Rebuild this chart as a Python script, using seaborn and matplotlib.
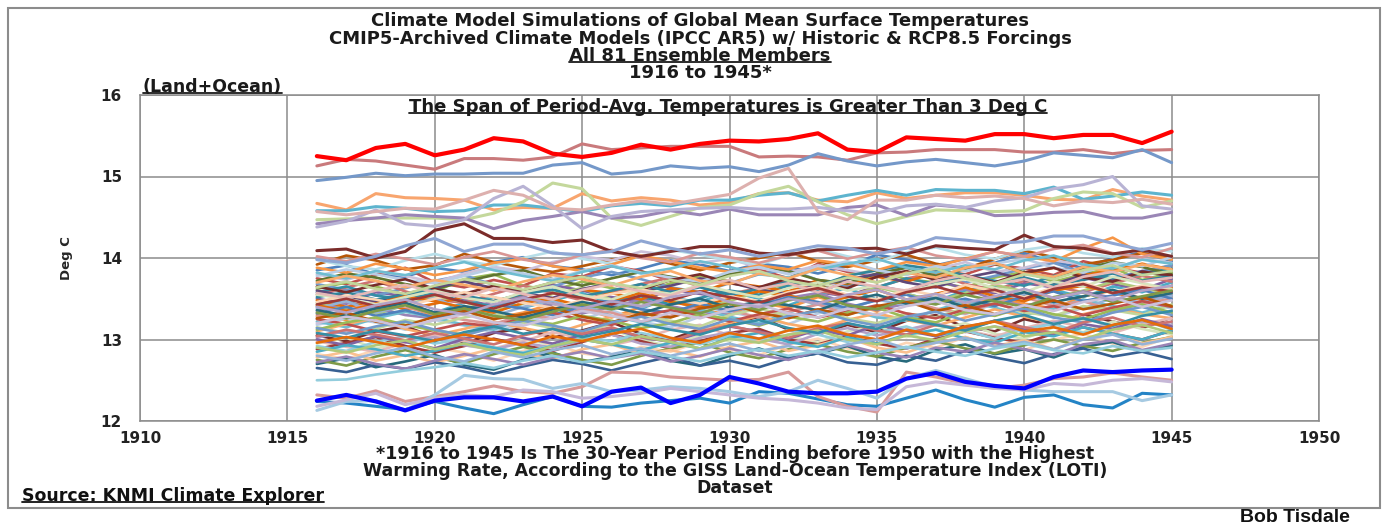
import numpy as np
import pandas as pd
import matplotlib
matplotlib.use('Agg')
import matplotlib.pyplot as plt
import seaborn as sns
from matplotlib.lines import Line2D
from matplotlib.patches import Rectangle

years = list(range(1916, 1946))

# highlighted / stand-alone members
red_top = [15.25, 15.20, 15.35, 15.40, 15.26, 15.33, 15.47, 15.43, 15.28, 15.24,
           15.29, 15.39, 15.33, 15.40, 15.44, 15.43, 15.46, 15.53, 15.33, 15.30,
           15.48, 15.46, 15.44, 15.52, 15.52, 15.47, 15.51, 15.51, 15.41, 15.55]
pink_top = [15.13, 15.21, 15.19, 15.14, 15.09, 15.22, 15.22, 15.20, 15.24, 15.40,
            15.33, 15.35, 15.37, 15.37, 15.37, 15.24, 15.25, 15.24, 15.20, 15.29,
            15.30, 15.33, 15.33, 15.33, 15.30, 15.30, 15.33, 15.28, 15.32, 15.33]
blue_top = [14.95, 14.99, 15.04, 15.01, 15.03, 15.03, 15.04, 15.04, 15.14, 15.17,
            15.03, 15.06, 15.13, 15.10, 15.12, 15.06, 15.14, 15.28, 15.19, 15.13,
            15.18, 15.21, 15.17, 15.13, 15.19, 15.29, 15.26, 15.23, 15.33, 15.17]
orange_hi = [14.67, 14.59, 14.79, 14.74, 14.73, 14.71, 14.59, 14.62, 14.61, 14.79,
             14.70, 14.74, 14.71, 14.65, 14.68, 14.79, 14.80, 14.71, 14.69, 14.80,
             14.73, 14.77, 14.80, 14.80, 14.77, 14.72, 14.71, 14.84, 14.76, 14.71]
aqua_hi = [14.58, 14.58, 14.63, 14.61, 14.57, 14.58, 14.65, 14.65, 14.61, 14.57,
           14.64, 14.67, 14.64, 14.71, 14.71, 14.77, 14.80, 14.70, 14.77, 14.83,
           14.77, 14.84, 14.83, 14.83, 14.79, 14.87, 14.72, 14.76, 14.81, 14.77]
green_hi = [14.47, 14.48, 14.49, 14.49, 14.49, 14.47, 14.55, 14.69, 14.92, 14.85,
            14.49, 14.40, 14.51, 14.62, 14.65, 14.79, 14.88, 14.69, 14.53, 14.42,
            14.51, 14.59, 14.58, 14.57, 14.58, 14.73, 14.81, 14.79, 14.62, 14.70]
purple_hi = [14.42, 14.46, 14.49, 14.53, 14.51, 14.49, 14.36, 14.46, 14.51, 14.57,
             14.49, 14.51, 14.58, 14.53, 14.60, 14.53, 14.53, 14.53, 14.62, 14.65,
             14.52, 14.65, 14.62, 14.52, 14.53, 14.56, 14.57, 14.49, 14.49, 14.56]
lavender_hi = [14.38, 14.45, 14.59, 14.42, 14.39, 14.47, 14.73, 14.88, 14.64, 14.36,
               14.51, 14.57, 14.59, 14.61, 14.62, 14.60, 14.60, 14.62, 14.58, 14.55,
               14.64, 14.66, 14.62, 14.70, 14.74, 14.85, 14.90, 15.00, 14.64, 14.60]
rose_hi = [14.57, 14.53, 14.57, 14.61, 14.60, 14.71, 14.83, 14.77, 14.61, 14.59,
           14.65, 14.70, 14.66, 14.72, 14.78, 14.98, 15.10, 14.57, 14.47, 14.71,
           14.71, 14.77, 14.74, 14.76, 14.73, 14.64, 14.70, 14.68, 14.72, 14.66]
brown_hi = [14.09, 14.11, 14.00, 14.08, 14.34, 14.42, 14.24, 14.24, 14.19, 14.22,
            14.08, 14.02, 14.08, 14.14, 14.14, 14.06, 14.04, 14.10, 14.11, 14.12,
            14.05, 14.15, 14.12, 14.10, 14.28, 14.14, 14.12, 14.05, 14.10, 14.02]
periwinkle_hi = [13.98, 13.94, 14.02, 14.15, 14.24, 14.08, 14.17, 14.17, 14.06, 14.04,
                 14.08, 14.21, 14.12, 14.05, 14.10, 14.02, 14.08, 14.15, 14.12, 14.05,
                 14.12, 14.25, 14.22, 14.18, 14.20, 14.27, 14.27, 14.18, 14.10, 14.18]
blue_low = [12.25, 12.32, 12.24, 12.13, 12.25, 12.29, 12.29, 12.24, 12.30, 12.18,
            12.36, 12.41, 12.22, 12.32, 12.54, 12.46, 12.36, 12.34, 12.34, 12.36,
            12.52, 12.59, 12.48, 12.43, 12.40, 12.54, 12.62, 12.60, 12.62, 12.63]
midblue_low = [12.24, 12.22, 12.18, 12.14, 12.24, 12.16, 12.09, 12.20, 12.30, 12.18,
               12.17, 12.22, 12.25, 12.28, 12.22, 12.36, 12.34, 12.27, 12.20, 12.18,
               12.28, 12.38, 12.26, 12.17, 12.29, 12.32, 12.20, 12.16, 12.34, 12.32]
pink_low = [12.32, 12.28, 12.37, 12.24, 12.30, 12.36, 12.43, 12.36, 12.34, 12.42,
            12.60, 12.59, 12.54, 12.52, 12.50, 12.51, 12.60, 12.30, 12.18, 12.11,
            12.60, 12.54, 12.46, 12.40, 12.44, 12.52, 12.54, 12.59, 12.54, 12.50]
lightblue_low = [12.13, 12.24, 12.25, 12.13, 12.32, 12.56, 12.52, 12.51, 12.40, 12.46,
                 12.36, 12.38, 12.42, 12.40, 12.36, 12.30, 12.36, 12.50, 12.40, 12.28,
                 12.52, 12.62, 12.52, 12.42, 12.38, 12.36, 12.36, 12.36, 12.25, 12.32]
lilac_low = [12.18, 12.26, 12.34, 12.20, 12.28, 12.32, 12.30, 12.38, 12.36, 12.28,
             12.30, 12.34, 12.40, 12.36, 12.32, 12.28, 12.26, 12.22, 12.16, 12.14,
             12.42, 12.48, 12.44, 12.40, 12.38, 12.46, 12.44, 12.50, 12.52, 12.48]

# the main bundle of ensemble members (estimated)
run_01 = [13.85, 13.91, 13.80, 13.77, 13.88, 13.83, 13.95, 14.01, 13.90, 13.86,
          13.79, 13.87, 13.97, 13.92, 13.84, 13.93, 13.89, 13.81, 13.90, 14.04,
          13.98, 13.91, 13.99, 13.94, 14.06, 13.95, 13.88, 14.00, 14.07, 13.96]
run_02 = [13.75, 13.68, 13.79, 13.88, 13.70, 13.64, 13.73, 13.66, 13.81, 13.77,
          13.90, 13.84, 13.72, 13.69, 13.80, 13.86, 13.75, 13.93, 13.83, 13.78,
          13.71, 13.85, 13.80, 13.92, 13.87, 13.79, 13.96, 13.88, 13.82, 13.91]
run_03 = [13.62, 13.70, 13.65, 13.55, 13.59, 13.74, 13.80, 13.66, 13.60, 13.71,
          13.63, 13.57, 13.69, 13.78, 13.72, 13.61, 13.68, 13.62, 13.79, 13.85,
          13.74, 13.70, 13.64, 13.76, 13.83, 13.71, 13.80, 13.88, 13.73, 13.82]
run_04 = [13.50, 13.44, 13.58, 13.53, 13.62, 13.49, 13.41, 13.55, 13.67, 13.60,
          13.52, 13.47, 13.61, 13.56, 13.50, 13.64, 13.71, 13.58, 13.53, 13.66,
          13.59, 13.73, 13.62, 13.57, 13.69, 13.64, 13.76, 13.68, 13.61, 13.74]
run_05 = [13.40, 13.47, 13.36, 13.43, 13.33, 13.45, 13.52, 13.39, 13.48, 13.57,
          13.44, 13.38, 13.51, 13.46, 13.59, 13.50, 13.42, 13.55, 13.63, 13.49,
          13.56, 13.47, 13.60, 13.66, 13.54, 13.61, 13.52, 13.65, 13.58, 13.70]
run_06 = [13.30, 13.24, 13.35, 13.41, 13.29, 13.37, 13.26, 13.33, 13.44, 13.38,
          13.27, 13.40, 13.49, 13.36, 13.31, 13.45, 13.39, 13.52, 13.43, 13.35,
          13.47, 13.56, 13.42, 13.50, 13.44, 13.38, 13.53, 13.60, 13.48, 13.55]
run_07 = [13.18, 13.26, 13.21, 13.12, 13.24, 13.17, 13.09, 13.20, 13.31, 13.25,
          13.36, 13.22, 13.15, 13.28, 13.34, 13.26, 13.19, 13.32, 13.40, 13.29,
          13.23, 13.37, 13.31, 13.44, 13.35, 13.27, 13.39, 13.33, 13.46, 13.38]
run_08 = [13.05, 12.98, 13.10, 13.16, 13.03, 12.95, 13.08, 13.14, 13.02, 13.11,
          13.21, 13.07, 13.00, 13.13, 13.19, 13.28, 13.12, 13.06, 13.18, 13.09,
          13.23, 13.30, 13.15, 13.10, 13.25, 13.17, 13.31, 13.22, 13.14, 13.27]
run_09 = [12.95, 13.02, 12.89, 12.97, 13.06, 12.93, 12.87, 13.00, 12.94, 13.08,
          13.13, 12.99, 12.92, 13.05, 12.98, 13.11, 13.04, 12.96, 13.10, 13.17,
          13.03, 13.12, 13.20, 13.07, 13.01, 13.15, 13.09, 13.22, 13.13, 13.06]
run_10 = [12.82, 12.76, 12.87, 12.80, 12.90, 12.84, 12.74, 12.86, 12.95, 12.83,
          12.78, 12.91, 12.85, 12.97, 12.88, 12.81, 12.94, 13.01, 12.89, 12.84,
          12.96, 12.90, 13.03, 12.93, 12.87, 13.00, 13.07, 12.95, 12.91, 13.04]
run_11 = [12.70, 12.77, 12.66, 12.73, 12.81, 12.69, 12.63, 12.75, 12.84, 12.72,
          12.79, 12.86, 12.74, 12.68, 12.80, 12.89, 12.77, 12.83, 12.92, 12.79,
          12.73, 12.87, 12.94, 12.82, 12.88, 12.78, 12.91, 12.97, 12.85, 12.93]
run_12 = [13.92, 14.03, 13.97, 13.86, 13.91, 14.05, 13.95, 13.88, 13.83, 13.90,
          13.98, 14.02, 13.93, 13.85, 13.94, 14.00, 14.07, 13.96, 13.89, 13.97,
          14.04, 13.93, 13.87, 13.99, 14.09, 14.01, 13.92, 13.98, 14.06, 14.00]
run_13 = [13.68, 13.61, 13.54, 13.63, 13.72, 13.79, 13.67, 13.59, 13.65, 13.76,
          13.83, 13.74, 13.64, 13.58, 13.69, 13.80, 13.86, 13.73, 13.66, 13.77,
          13.89, 13.79, 13.70, 13.78, 13.87, 13.94, 13.82, 13.75, 13.84, 13.91]
run_14 = [13.55, 13.64, 13.72, 13.59, 13.49, 13.45, 13.56, 13.66, 13.57, 13.48,
          13.58, 13.68, 13.76, 13.65, 13.56, 13.63, 13.71, 13.60, 13.53, 13.64,
          13.75, 13.81, 13.68, 13.61, 13.72, 13.65, 13.58, 13.69, 13.78, 13.71]
run_15 = [13.45, 13.37, 13.31, 13.42, 13.53, 13.46, 13.35, 13.44, 13.56, 13.63,
          13.49, 13.41, 13.50, 13.38, 13.47, 13.59, 13.52, 13.43, 13.52, 13.64,
          13.56, 13.47, 13.57, 13.67, 13.59, 13.51, 13.60, 13.71, 13.63, 13.56]
run_16 = [13.35, 13.45, 13.39, 13.30, 13.26, 13.36, 13.47, 13.53, 13.40, 13.32,
          13.40, 13.49, 13.41, 13.34, 13.30, 13.39, 13.51, 13.57, 13.44, 13.36,
          13.44, 13.55, 13.62, 13.49, 13.41, 13.50, 13.59, 13.51, 13.45, 13.56]
run_17 = [13.22, 13.15, 13.26, 13.34, 13.27, 13.18, 13.12, 13.25, 13.36, 13.42,
          13.29, 13.21, 13.28, 13.37, 13.28, 13.20, 13.33, 13.44, 13.37, 13.27,
          13.23, 13.36, 13.47, 13.39, 13.30, 13.38, 13.49, 13.41, 13.33, 13.42]
run_18 = [13.10, 13.19, 13.26, 13.13, 13.05, 13.13, 13.22, 13.14, 13.07, 13.18,
          13.28, 13.34, 13.21, 13.12, 13.20, 13.29, 13.19, 13.13, 13.24, 13.32,
          13.24, 13.17, 13.27, 13.37, 13.28, 13.20, 13.31, 13.39, 13.31, 13.26]
run_19 = [12.98, 12.91, 12.85, 12.96, 13.05, 12.98, 12.89, 12.98, 13.09, 13.01,
          12.93, 13.01, 13.12, 13.18, 13.05, 12.97, 13.06, 13.15, 13.07, 13.00,
          13.11, 13.20, 13.11, 13.04, 13.14, 13.23, 13.15, 13.08, 13.19, 13.26]
run_20 = [12.88, 12.96, 13.03, 12.92, 12.84, 12.92, 13.01, 12.93, 12.86, 12.97,
          13.06, 12.98, 12.89, 12.98, 13.08, 13.13, 13.00, 12.94, 13.04, 12.95,
          12.89, 13.01, 13.10, 13.02, 12.96, 13.07, 13.15, 13.07, 13.00, 13.11]
run_21 = [12.75, 12.68, 12.79, 12.87, 12.78, 12.71, 12.82, 12.91, 12.83, 12.75,
          12.69, 12.80, 12.89, 12.96, 12.84, 12.77, 12.88, 12.94, 12.85, 12.79,
          12.90, 12.98, 12.89, 12.83, 12.93, 13.00, 12.92, 12.86, 12.96, 13.03]
run_22 = [13.80, 13.73, 13.84, 13.78, 13.70, 13.81, 13.89, 13.84, 13.95, 14.02,
          13.97, 14.08, 14.03, 13.94, 13.99, 13.88, 13.82, 13.91, 13.85, 13.79,
          13.90, 13.86, 13.95, 13.83, 13.88, 13.97, 13.92, 13.86, 13.99, 13.94]
run_23 = [13.58, 13.65, 13.54, 13.49, 13.57, 13.46, 13.41, 13.50, 13.44, 13.38,
          13.47, 13.53, 13.43, 13.51, 13.60, 13.55, 13.66, 13.59, 13.70, 13.64,
          13.75, 13.68, 13.79, 13.72, 13.66, 13.78, 13.84, 13.74, 13.81, 13.87]
run_24 = [13.48, 13.40, 13.46, 13.37, 13.44, 13.52, 13.47, 13.56, 13.50, 13.61,
          13.57, 13.49, 13.63, 13.58, 13.70, 13.65, 13.59, 13.73, 13.68, 13.77,
          13.71, 13.82, 13.76, 13.69, 13.80, 13.88, 13.79, 13.85, 13.93, 13.86]
run_25 = [13.38, 13.47, 13.33, 13.42, 13.51, 13.36, 13.29, 13.40, 13.48, 13.35,
          13.44, 13.39, 13.52, 13.41, 13.34, 13.46, 13.55, 13.43, 13.37, 13.49,
          13.42, 13.53, 13.40, 13.47, 13.56, 13.44, 13.38, 13.51, 13.45, 13.54]
run_26 = [13.28, 13.35, 13.46, 13.40, 13.31, 13.24, 13.19, 13.30, 13.26, 13.37,
          13.33, 13.22, 13.29, 13.41, 13.36, 13.27, 13.34, 13.43, 13.31, 13.39,
          13.48, 13.38, 13.32, 13.45, 13.52, 13.41, 13.47, 13.36, 13.44, 13.50]
run_27 = [13.15, 13.08, 13.13, 13.24, 13.18, 13.27, 13.33, 13.21, 13.14, 13.09,
          13.19, 13.28, 13.23, 13.16, 13.30, 13.38, 13.29, 13.35, 13.26, 13.20,
          13.32, 13.27, 13.39, 13.45, 13.33, 13.29, 13.41, 13.36, 13.30, 13.43]
run_28 = [13.02, 13.11, 13.05, 12.97, 13.03, 12.93, 12.88, 12.96, 12.90, 12.99,
          13.06, 12.95, 12.91, 13.02, 13.09, 13.01, 12.94, 13.07, 13.14, 13.05,
          13.12, 13.20, 13.09, 13.16, 13.10, 13.21, 13.27, 13.15, 13.22, 13.18]
run_29 = [12.92, 12.86, 12.97, 13.04, 12.95, 13.01, 12.90, 12.84, 12.93, 13.03,
          12.98, 13.08, 13.01, 12.94, 13.05, 12.99, 13.12, 13.06, 12.97, 13.09,
          13.16, 13.04, 13.11, 13.01, 13.13, 13.19, 13.08, 13.15, 13.24, 13.12]
run_30 = [12.78, 12.85, 12.74, 12.81, 12.72, 12.80, 12.89, 12.83, 12.76, 12.88,
          12.94, 12.82, 12.87, 12.79, 12.91, 12.98, 12.86, 12.93, 13.02, 12.90,
          12.84, 12.96, 13.03, 12.92, 12.99, 12.88, 13.01, 13.07, 12.95, 13.03]
run_31 = [12.65, 12.60, 12.69, 12.64, 12.72, 12.66, 12.58, 12.67, 12.75, 12.70,
          12.62, 12.71, 12.79, 12.68, 12.74, 12.66, 12.77, 12.83, 12.72, 12.69,
          12.80, 12.74, 12.86, 12.78, 12.71, 12.82, 12.89, 12.79, 12.85, 12.76]
run_32 = [13.98, 13.90, 13.86, 13.97, 14.05, 13.96, 13.91, 14.00, 14.08, 13.99,
          13.93, 14.02, 14.10, 14.04, 13.97, 13.92, 14.03, 14.11, 14.02, 13.95,
          14.07, 14.13, 14.04, 13.99, 14.10, 14.15, 14.06, 14.01, 14.12, 14.08]
run_33 = [13.72, 13.81, 13.76, 13.68, 13.62, 13.71, 13.79, 13.85, 13.74, 13.66,
          13.75, 13.83, 13.77, 13.70, 13.80, 13.90, 13.84, 13.73, 13.69, 13.81,
          13.88, 13.78, 13.86, 13.93, 13.82, 13.76, 13.87, 13.95, 13.89, 13.80]
run_34 = [13.60, 13.53, 13.47, 13.56, 13.64, 13.71, 13.63, 13.57, 13.51, 13.62,
          13.69, 13.59, 13.66, 13.75, 13.70, 13.61, 13.56, 13.67, 13.74, 13.80,
          13.70, 13.64, 13.76, 13.83, 13.73, 13.68, 13.79, 13.72, 13.84, 13.77]
run_35 = [13.52, 13.58, 13.49, 13.55, 13.63, 13.54, 13.47, 13.56, 13.61, 13.53,
          13.60, 13.68, 13.58, 13.64, 13.55, 13.62, 13.71, 13.66, 13.78, 13.85,
          13.91, 13.86, 13.79, 13.70, 13.76, 13.67, 13.73, 13.81, 13.72, 13.78]
run_36 = [13.42, 13.35, 13.44, 13.53, 13.47, 13.39, 13.33, 13.45, 13.50, 13.41,
          13.48, 13.57, 13.46, 13.40, 13.51, 13.59, 13.54, 13.45, 13.52, 13.61,
          13.49, 13.56, 13.64, 13.53, 13.47, 13.60, 13.66, 13.57, 13.51, 13.63]
run_37 = [13.32, 13.40, 13.29, 13.36, 13.27, 13.34, 13.43, 13.38, 13.30, 13.41,
          13.49, 13.37, 13.33, 13.44, 13.35, 13.42, 13.52, 13.46, 13.39, 13.48,
          13.55, 13.44, 13.50, 13.41, 13.53, 13.59, 13.47, 13.54, 13.61, 13.50]
run_38 = [13.25, 13.19, 13.10, 13.04, 13.12, 13.20, 13.16, 13.27, 13.33, 13.24,
          13.18, 13.29, 13.36, 13.30, 13.22, 13.31, 13.38, 13.27, 13.34, 13.42,
          13.32, 13.26, 13.37, 13.44, 13.35, 13.41, 13.30, 13.39, 13.47, 13.40]
run_39 = [13.12, 13.21, 13.27, 13.18, 13.11, 13.06, 13.15, 13.24, 13.19, 13.29,
          13.23, 13.14, 13.20, 13.31, 13.25, 13.17, 13.28, 13.22, 13.33, 13.39,
          13.27, 13.21, 13.34, 13.29, 13.40, 13.31, 13.25, 13.36, 13.43, 13.33]
run_40 = [13.00, 12.93, 13.04, 12.97, 12.89, 13.01, 13.09, 13.02, 12.95, 13.06,
          13.13, 13.03, 12.97, 13.08, 13.16, 13.10, 13.01, 13.12, 13.05, 13.18,
          13.11, 13.04, 13.15, 13.23, 13.12, 13.07, 13.19, 13.13, 13.25, 13.16]
run_41 = [12.85, 12.93, 12.88, 12.80, 12.86, 12.95, 12.90, 12.83, 12.92, 13.00,
          12.94, 12.87, 12.96, 12.89, 13.02, 13.08, 12.97, 12.91, 13.03, 12.95,
          13.06, 13.12, 13.01, 12.96, 13.09, 13.04, 13.15, 13.07, 13.00, 13.11]
run_42 = [13.88, 13.82, 13.93, 13.87, 13.79, 13.85, 13.94, 13.99, 13.90, 13.84,
          13.92, 14.03, 13.96, 13.88, 13.83, 13.91, 13.86, 13.97, 13.92, 13.85,
          13.95, 13.90, 13.99, 14.08, 14.02, 13.96, 14.12, 14.25, 14.05, 13.98]
run_43 = [13.78, 13.86, 13.80, 13.73, 13.69, 13.78, 13.87, 13.81, 13.74, 13.84,
          13.91, 13.82, 13.76, 13.71, 13.83, 13.89, 13.80, 13.88, 13.96, 13.85,
          13.79, 13.90, 13.84, 13.93, 13.99, 13.88, 13.82, 13.94, 13.90, 14.01]
run_44 = [13.65, 13.58, 13.67, 13.74, 13.62, 13.56, 13.66, 13.60, 13.70, 13.77,
          13.68, 13.61, 13.73, 13.80, 13.69, 13.64, 13.75, 13.68, 13.63, 13.77,
          13.84, 13.73, 13.79, 13.70, 13.82, 13.88, 13.76, 13.71, 13.83, 13.79]
run_45 = [13.55, 13.50, 13.43, 13.52, 13.60, 13.51, 13.46, 13.58, 13.65, 13.54,
          13.49, 13.61, 13.56, 13.67, 13.59, 13.52, 13.63, 13.70, 13.60, 13.66,
          13.57, 13.68, 13.74, 13.63, 13.58, 13.71, 13.65, 13.77, 13.69, 13.62]
run_46 = [13.46, 13.54, 13.49, 13.41, 13.50, 13.58, 13.52, 13.45, 13.39, 13.48,
          13.56, 13.62, 13.51, 13.44, 13.53, 13.47, 13.58, 13.65, 13.55, 13.49,
          13.61, 13.54, 13.67, 13.59, 13.52, 13.64, 13.70, 13.58, 13.66, 13.60]
run_47 = [13.36, 13.29, 13.38, 13.45, 13.33, 13.41, 13.35, 13.27, 13.37, 13.46,
          13.40, 13.32, 13.43, 13.50, 13.39, 13.47, 13.42, 13.36, 13.48, 13.55,
          13.44, 13.51, 13.40, 13.49, 13.58, 13.46, 13.53, 13.61, 13.50, 13.57]
run_48 = [13.26, 13.33, 13.22, 13.17, 13.28, 13.35, 13.25, 13.31, 13.39, 13.28,
          13.21, 13.32, 13.27, 13.38, 13.44, 13.33, 13.26, 13.37, 13.30, 13.41,
          13.47, 13.35, 13.42, 13.31, 13.39, 13.48, 13.37, 13.44, 13.52, 13.41]
run_49 = [13.14, 13.07, 13.16, 13.22, 13.12, 13.05, 13.15, 13.23, 13.17, 13.10,
          13.21, 13.28, 13.19, 13.13, 13.25, 13.18, 13.29, 13.35, 13.24, 13.17,
          13.28, 13.34, 13.23, 13.31, 13.38, 13.27, 13.21, 13.33, 13.40, 13.30]
run_50 = [13.04, 13.12, 13.06, 12.99, 13.08, 13.01, 12.94, 13.05, 13.13, 13.07,
          13.15, 13.03, 12.98, 13.10, 13.17, 13.09, 13.02, 13.14, 13.20, 13.11,
          13.06, 13.18, 13.12, 13.23, 13.15, 13.08, 13.21, 13.27, 13.16, 13.22]
run_51 = [12.90, 12.84, 12.93, 12.99, 12.88, 12.95, 12.86, 12.81, 12.92, 13.00,
          12.94, 13.04, 12.97, 12.89, 13.01, 12.96, 13.06, 13.11, 13.00, 12.94,
          13.05, 12.99, 13.10, 13.16, 13.04, 13.09, 13.00, 13.12, 13.18, 13.08]
run_52 = [12.72, 12.79, 12.70, 12.64, 12.74, 12.82, 12.76, 12.69, 12.78, 12.85,
          12.77, 12.83, 12.73, 12.80, 12.89, 12.81, 12.75, 12.86, 12.93, 12.84,
          12.78, 12.90, 12.85, 12.96, 12.88, 12.81, 12.94, 12.99, 12.87, 12.95]
run_53 = [13.82, 13.75, 13.84, 13.79, 13.88, 13.95, 13.85, 13.78, 13.72, 13.83,
          13.90, 13.81, 13.87, 13.96, 13.89, 13.80, 13.76, 13.86, 13.93, 13.99,
          13.88, 13.82, 13.91, 13.86, 13.97, 14.03, 13.92, 13.87, 13.98, 13.93]
run_54 = [13.70, 13.78, 13.72, 13.64, 13.73, 13.67, 13.60, 13.71, 13.79, 13.74,
          13.66, 13.77, 13.84, 13.72, 13.68, 13.81, 13.75, 13.87, 13.79, 13.70,
          13.82, 13.76, 13.88, 13.94, 13.81, 13.77, 13.89, 13.83, 13.92, 13.86]
run_55 = [13.57, 13.51, 13.60, 13.67, 13.58, 13.52, 13.63, 13.56, 13.49, 13.61,
          13.68, 13.59, 13.54, 13.66, 13.73, 13.62, 13.69, 13.58, 13.71, 13.65,
          13.60, 13.72, 13.79, 13.68, 13.74, 13.64, 13.77, 13.83, 13.71, 13.76]
run_56 = [13.43, 13.50, 13.41, 13.47, 13.55, 13.46, 13.38, 13.49, 13.57, 13.51,
          13.43, 13.54, 13.48, 13.59, 13.52, 13.45, 13.56, 13.63, 13.53, 13.47,
          13.58, 13.65, 13.55, 13.61, 13.50, 13.62, 13.68, 13.57, 13.64, 13.59]
run_57 = [13.33, 13.26, 13.35, 13.42, 13.31, 13.38, 13.29, 13.24, 13.34, 13.43,
          13.37, 13.46, 13.39, 13.32, 13.44, 13.36, 13.48, 13.54, 13.42, 13.37,
          13.49, 13.43, 13.55, 13.47, 13.40, 13.52, 13.58, 13.46, 13.53, 13.60]
run_58 = [13.20, 13.28, 13.23, 13.15, 13.24, 13.31, 13.21, 13.17, 13.27, 13.35,
          13.29, 13.22, 13.33, 13.26, 13.37, 13.43, 13.32, 13.27, 13.38, 13.30,
          13.41, 13.47, 13.36, 13.31, 13.42, 13.35, 13.46, 13.52, 13.40, 13.48]
run_59 = [13.08, 13.02, 13.11, 13.05, 12.98, 13.09, 13.16, 13.07, 13.13, 13.03,
          13.10, 13.19, 13.12, 13.06, 13.17, 13.24, 13.14, 13.08, 13.20, 13.13,
          13.25, 13.18, 13.11, 13.23, 13.30, 13.19, 13.26, 13.17, 13.29, 13.35]
run_60 = [12.96, 13.03, 12.97, 12.90, 12.99, 13.06, 13.00, 12.93, 13.04, 12.98,
          13.07, 13.13, 13.02, 12.96, 13.08, 13.01, 13.11, 13.17, 13.06, 13.00,
          13.12, 13.05, 13.16, 13.22, 13.10, 13.15, 13.06, 13.18, 13.24, 13.13]
run_61 = [12.80, 12.74, 12.83, 12.90, 12.79, 12.73, 12.85, 12.78, 12.87, 12.93,
          12.82, 12.89, 12.80, 12.88, 12.95, 12.86, 12.92, 12.83, 12.94, 13.00,
          12.89, 12.96, 13.02, 12.91, 12.97, 12.88, 13.00, 13.06, 12.94, 13.01]
run_62 = [14.02, 13.96, 14.05, 13.99, 13.92, 14.01, 14.08, 13.98, 13.93, 14.04,
          14.10, 14.00, 13.95, 14.06, 14.01, 13.94, 14.03, 14.09, 13.99, 14.07,
          14.13, 14.03, 13.98, 14.08, 14.02, 14.11, 14.16, 14.06, 14.01, 14.12]
run_63 = [13.64, 13.71, 13.62, 13.56, 13.66, 13.74, 13.68, 13.61, 13.70, 13.77,
          13.69, 13.63, 13.73, 13.67, 13.78, 13.84, 13.72, 13.66, 13.76, 13.70,
          13.81, 13.87, 13.75, 13.69, 13.80, 13.74, 13.85, 13.91, 13.79, 13.84]
run_64 = [13.40, 13.33, 13.42, 13.49, 13.37, 13.31, 13.43, 13.51, 13.44, 13.38,
          13.47, 13.41, 13.52, 13.58, 13.46, 13.40, 13.50, 13.44, 13.55, 13.61,
          13.49, 13.56, 13.45, 13.53, 13.62, 13.51, 13.58, 13.48, 13.60, 13.66]
run_65 = [12.50, 12.51, 12.57, 12.62, 12.66, 12.71, 12.65, 12.74, 12.80, 12.72,
          12.77, 12.85, 12.79, 12.73, 12.82, 12.88, 12.80, 12.86, 12.78, 12.84,
          12.91, 12.85, 12.80, 12.89, 12.95, 12.87, 12.83, 12.92, 12.86, 12.90]

title_lines = ['Climate Model Simulations of Global Mean Surface Temperatures',
               'CMIP5-Archived Climate Models (IPCC AR5) w/ Historic & RCP8.5 Forcings',
               'All 81 Ensemble Members',
               '1916 to 1945*']
note_lines = ['*1916 to 1945 Is The 30-Year Period Ending before 1950 with the Highest',
              'Warming Rate, According to the GISS Land-Ocean Temperature Index (LOTI)',
              'Dataset']

mass_runs = [run_01, run_02, run_03, run_04, run_05, run_06, run_07, run_08, run_09, run_10,
             run_11, run_12, run_13, run_14, run_15, run_16, run_17, run_18, run_19, run_20,
             run_21, run_22, run_23, run_24, run_25, run_26, run_27, run_28, run_29, run_30,
             run_31, run_32, run_33, run_34, run_35, run_36, run_37, run_38, run_39, run_40,
             run_41, run_42, run_43, run_44, run_45, run_46, run_47, run_48, run_49, run_50,
             run_51, run_52, run_53, run_54, run_55, run_56, run_57, run_58, run_59, run_60,
             run_61, run_62, run_63, run_64, run_65]

# Excel-2007 style series colours, with the lighter tints mixed in
excel_cycle = ['#4F81BD', '#C0504D', '#9BBB59', '#8064A2', '#4BACC6', '#F79646',
               '#B9CDE5', '#772C2A', '#D7E4BD', '#FCD5B5', '#276A7C', '#B65708',
               '#729ACA', '#CD7371', '#AFC97A', '#9983B5', '#6FBDD1', '#F9AB6B',
               '#E6B9B8', '#9E3A38', '#7E9A48', '#CCC1DA', '#358EA5', '#E46C0A',
               '#95B3D7', '#D99694', '#C3D69B', '#B3A2C7', '#93CDDD', '#FAC090',
               '#376092', '#B7DEE8', '#5F7530', '#5F497A', '#31859C', '#E36C09']

special = [('pink_top', pink_top, '#C97A7C'), ('blue_top', blue_top, '#7498C9'),
           ('orange_hi', orange_hi, '#F8A56E'), ('aqua_hi', aqua_hi, '#5DB4CE'),
           ('green_hi', green_hi, '#C4D89C'), ('purple_hi', purple_hi, '#9A86B6'),
           ('lavender_hi', lavender_hi, '#B8B3D4'), ('rose_hi', rose_hi, '#DDB0AE'),
           ('brown_hi', brown_hi, '#7B2C2A'), ('periwinkle_hi', periwinkle_hi, '#8FA6D3'),
           ('midblue_low', midblue_low, '#2484C6'), ('pink_low', pink_low, '#D79A9A'),
           ('lightblue_low', lightblue_low, '#A6CAE2'), ('lilac_low', lilac_low, '#C6B8D8')]
bold_lines = [('blue_low', blue_low, '#0000FF'), ('red_top', red_top, '#FF0000')]


def long_form(named):
    rows = []
    for name, vals, _ in named:
        assert len(vals) == len(years), name
        for yr, v in zip(years, vals):
            rows.append((name, yr, v))
    return pd.DataFrame(rows, columns=['member', 'year', 'temp'])


mass_named = [(f'run_{i + 1:02d}', v, excel_cycle[i % len(excel_cycle)]) for i, v in enumerate(mass_runs)]

sns.set_style('white')
plt.rcParams['font.family'] = ['DejaVu Sans']
plt.rcParams['font.weight'] = 'bold'

W, H = 1387, 524
fig = plt.figure(figsize=(W / 100, H / 100), dpi=100)
ax = fig.add_axes([140 / W, 1 - 421 / H, (1319 - 140) / W, (421 - 95) / H])

for group, lw in [(mass_named, 1.9), (special, 2.2), (bold_lines, 3.0)]:
    df = long_form(group)
    sns.lineplot(data=df, x='year', y='temp', hue='member',
                 hue_order=[g[0] for g in group], palette={g[0]: g[2] for g in group},
                 linewidth=lw, estimator=None, sort=False, legend=False, ax=ax)

ax.set_xlim(1910, 1950)
ax.set_ylim(12, 16)
ax.set_xticks(range(1910, 1951, 5))
ax.set_yticks([12, 13, 14, 15, 16])
ax.set_axisbelow(True)
ax.grid(True, color='#8c8c8c', linewidth=1.1)
for s in ax.spines.values():
    s.set_color('#8c8c8c')
    s.set_linewidth(1.1)
ax.tick_params(axis='y', length=9, width=1.1, color='#8c8c8c', pad=4, labelsize=11, labelcolor='#222222')
ax.tick_params(axis='x', length=4, width=1.1, color='#8c8c8c', pad=3, labelsize=11, labelcolor='#222222')
for lab in ax.get_xticklabels() + ax.get_yticklabels():
    lab.set_fontweight('bold')
ax.set_xlabel('')
ax.set_ylabel('Deg C', fontsize=9.5, fontweight='bold', labelpad=20)

to_underline = []
ty = [21, 39, 56, 73]
for i, (line, y) in enumerate(zip(title_lines, ty)):
    t = fig.text(700 / W, 1 - y / H, line, ha='center', va='center', fontsize=13, fontweight='bold', color='#1a1a1a')
    if i == 2:
        to_underline.append(t)
to_underline.append(fig.text(143 / W, 1 - 87 / H, '(Land+Ocean)', ha='left', va='center',
                             fontsize=12.5, fontweight='bold', color='#1a1a1a'))
to_underline.append(fig.text(728 / W, 1 - 107 / H, 'The Span of Period-Avg. Temperatures is Greater Than 3 Deg C',
                             ha='center', va='center', fontsize=13, fontweight='bold', color='#1a1a1a'))
for line, y in zip(note_lines, [454, 471, 488]):
    fig.text(735 / W, 1 - y / H, line, ha='center', va='center', fontsize=12.5, fontweight='bold', color='#1a1a1a')
to_underline.append(fig.text(22 / W, 1 - 496 / H, 'Source: KNMI Climate Explorer', ha='left', va='center',
                             fontsize=12.5, fontweight='bold', color='#111111'))
fig.text(1350 / W, 1 - 518 / H, 'Bob Tisdale', ha='right', va='center', fontsize=14,
         fontweight='bold', family='Liberation Sans', color='#111111')

# underlines under the marked texts
fig.canvas.draw()
for t in to_underline:
    bb = t.get_window_extent()
    yy = (bb.y0 + 0.15 * t.get_fontsize() * 100 / 72) / H
    fig.add_artist(Line2D([bb.x0 / W, bb.x1 / W], [yy, yy], transform=fig.transFigure,
                          color=t.get_color(), linewidth=1.3))

# outer frame
fig.add_artist(Rectangle((8 / W, 1 - 508 / H), (1380 - 8) / W, (508 - 8) / H, transform=fig.transFigure,
                         fill=False, edgecolor='#8c8c8c', linewidth=1.5))

fig.savefig('out.png', dpi=100)
